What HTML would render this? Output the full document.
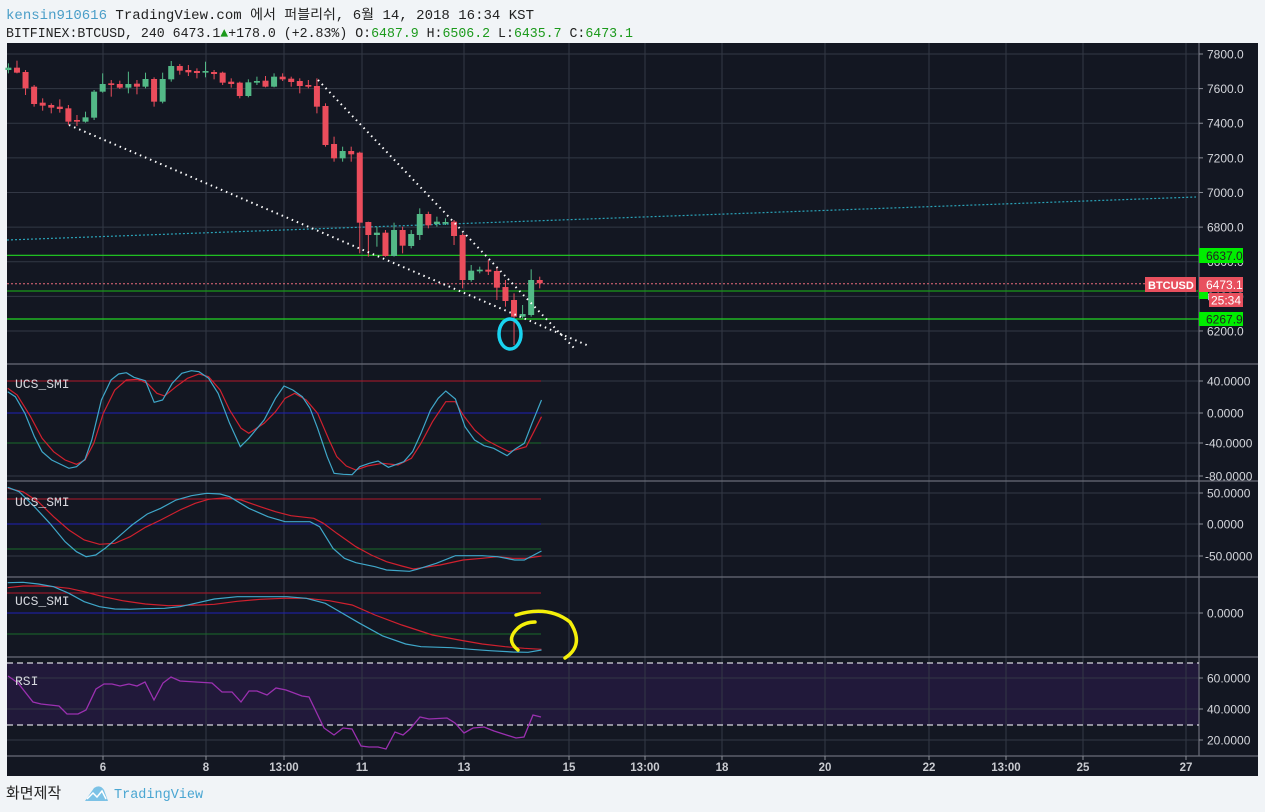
<!DOCTYPE html>
<html><head><meta charset="utf-8"><style>
html,body{margin:0;padding:0;background:#f1f4f7;}
svg{display:block}
</style></head><body>
<svg id="s" width="1265" height="812" xmlns="http://www.w3.org/2000/svg" font-family="Liberation Mono, 'Noto Sans CJK KR', monospace">
<rect x="0" y="0" width="1265" height="812" fill="#f1f4f7"/>
<text x="6" y="19" font-size="13.5" textLength="528" lengthAdjust="spacingAndGlyphs"><tspan fill="#4a9ec8">kensin910616</tspan><tspan fill="#222"> TradingView.com 에서 퍼블리쉬, 6월 14, 2018 16:34 KST</tspan></text>
<text x="6" y="37" font-size="13.5" textLength="627" lengthAdjust="spacingAndGlyphs" fill="#222">BITFINEX:BTCUSD, 240 6473.1<tspan fill="#1c9a1c">▲</tspan>+178.0 (+2.83%) O:<tspan fill="#1c9a1c">6487.9</tspan> H:<tspan fill="#1c9a1c">6506.2</tspan> L:<tspan fill="#1c9a1c">6435.7</tspan> C:<tspan fill="#1c9a1c">6473.1</tspan></text>
<rect x="7" y="43" width="1251" height="733" fill="#131722"/>
<rect x="7" y="663" width="1192" height="62" fill="#21193a"/>
<g id="grid" stroke="#363a45" stroke-width="1"></g>
<g id="main"></g>
<text x="547" y="797" font-size="1" fill="none"> </text>
</svg>
<script>
const S=document.getElementById('s'),NS='http://www.w3.org/2000/svg';
function el(t,a,txt){const e=document.createElementNS(NS,t);for(const k in a)e.setAttribute(k,a[k]);if(txt!==undefined)e.textContent=txt;S.appendChild(e);return e;}
function line(x1,y1,x2,y2,c,w,d){const a={x1,y1,x2,y2,stroke:c,'stroke-width':w||1};if(d)a['stroke-dasharray']=d;return el('line',a);}
// vertical grid
const vx=[103,206,284,362,464,569,645,722,825,929,1006,1083,1186];
vx.forEach(x=>line(x,43,x,756,'#333845'));
// horizontal grids main
for(let k=0;k<9;k++){const y=54+k*34.62;line(7,y,1199,y,'#333845');}
[381,413,443,476,493,524,556,613,678,709,740].forEach(y=>line(7,y,1199,y,'#333845'));
// panel separators
[364,481,577,657,756].forEach(y=>line(7,y,1258,y,'#6a6d78',1.2));
line(1199,43,1199,756,'#6a6d78',1.2);
// candles
const C=[
['g',83,90,70,100],['r',83,98,62,100],['r',96,145,90,165],['r',140,192,135,200],['r',188,197,175,212],['r',195,203,190,220],['r',200,207,178,218],['r',205,245,195,255],['r',240,245,225,258],['g',232,245,215,248],
['g',155,233,150,240],['g',132,155,100,158],['r',130,135,120,170],['r',132,143,122,147],['g',132,143,95,160],['r',131,140,120,163],['g',117,140,98,145],['r',117,185,112,200],['g',117,185,98,190],['g',78,118,63,125],
['r',78,92,72,104],['r',90,97,75,108],['r',93,99,85,115],['g',93,98,65,112],['r',96,102,90,118],['r',98,128,95,135],['r',125,132,115,143],['r',128,168,125,175],['g',127,168,118,172],['g',123,128,110,135],
['r',122,140,108,142],['g',110,140,100,142],['r',110,118,100,123],['r',116,126,110,140],['r',123,138,115,160],['r',135,140,120,145],['r',138,200,115,220],['r',198,315,190,320],['r',312,355,290,365],['g',333,355,320,365],
['r',333,343,320,365],['r',338,548,335,640],['r',546,585,545,650],['g',578,585,560,620],['r',578,648,570,650],['g',570,648,548,650],['r',570,617,560,640],['g',582,618,570,625],['g',522,585,505,600],['r',522,556,515,565],
['g',545,552,530,560],['g',546,551,535,555],['r',545,588,540,615],['r',585,720,580,745],['g',692,720,675,725],['g',689,694,680,700],['r',689,695,660,705],['r',693,743,680,780],['r',741,783,720,800],['r',780,830,760,915],
['g',822,830,795,835],['g',720,825,688,830],['r',720,730,710,745]];
// horizontal level lines first
line(7,255.3,1199,255.3,'#22d622',1.2);
line(7,291,1199,291,'#1a9a1a',1.2);
line(7,319,1199,319,'#22d622',1.2);
line(7,283.7,1145,283.7,'#e86a7a',1,'2,2');
line(7,240,1196,197,'#2aa3b8',1.2,'2,2');
C.forEach((c,i)=>{const x=8.4+8.57*i;const col=c[0]=='g'?'#53b987':'#eb4d5c';
 line(x,c[3]/3+40,x,c[4]/3+40,col,1);
 const t=c[1]/3+40,b=c[2]/3+40;el('rect',{x:x-3,y:t,width:6,height:Math.max(1,b-t),fill:col});});
line(69,125,589,346,'#ffffff',2,'1.5,4');
line(318,80,574,348,'#ffffff',2,'1.5,4');
el('ellipse',{cx:510,cy:334,rx:11,ry:15,fill:'none',stroke:'#19d3f0','stroke-width':3.5});
// indicator lines
function poly(pts,col,oy){const p=[];for(let i=0;i<pts.length;i+=2)p.push((pts[i]/2.613).toFixed(1)+','+(pts[i+1]/3+oy).toFixed(1));el('polyline',{points:p.join(' '),fill:'none',stroke:col,'stroke-width':1.2});}
// level lines panels
[[381,'#b2182b'],[413,'#1f22b5'],[443,'#1a6b2a'],[499,'#b2182b'],[524,'#1f22b5'],[549,'#1a6b2a'],[593,'#b2182b'],[613,'#1f22b5'],[634,'#1a6b2a']].forEach(a=>line(7,a[0],541,a[0],a[1],1));
poly([20,85,45,105,80,170,110,235,140,275,170,300,200,313,222,300,245,250,270,160,300,90,330,60,360,58,385,70,410,100,430,108,460,80,490,55,520,42,545,50,575,90,600,150,630,205,650,220,690,190,720,155,745,115,770,100,800,120,830,160,860,240,880,290,905,318,930,330,960,318,1000,310,1040,315,1075,295,1100,250,1130,185,1165,125,1190,125,1210,165,1240,210,1270,240,1300,258,1330,275,1375,260,1395,215,1415,170],'#d0202e',360);
poly([20,95,40,110,65,160,90,230,110,275,135,300,180,325,200,320,222,298,240,240,265,120,290,60,310,42,330,38,350,52,380,62,403,127,425,120,450,70,475,40,500,32,520,35,545,55,570,100,600,190,628,260,650,235,690,180,720,115,742,78,765,90,790,110,810,145,830,205,855,290,873,340,897,343,920,344,940,320,965,310,988,303,1015,322,1055,305,1078,275,1100,220,1125,150,1145,115,1165,93,1190,117,1215,200,1240,240,1265,257,1290,265,1325,287,1345,268,1370,250,1390,190,1415,120],'#3fa7c9',360);
poly([20,385,60,395,100,425,140,470,180,510,220,540,260,553,300,550,340,530,380,502,420,480,470,450,510,430,545,418,590,413,630,420,680,440,720,455,760,467,820,475,845,490,880,520,930,560,970,585,1010,605,1050,618,1080,627,1110,622,1150,615,1210,600,1260,595,1300,590,1340,595,1375,595,1415,588],'#d0202e',360);
poly([20,382,50,395,90,440,130,490,170,545,200,575,225,590,250,585,275,565,310,530,345,495,385,462,420,445,460,420,500,407,540,400,575,402,600,410,650,445,700,470,745,485,810,485,835,500,870,565,900,595,930,608,980,620,1010,630,1070,634,1090,628,1140,610,1190,587,1260,587,1300,590,1345,600,1370,600,1415,573],'#3fa7c9',360);
poly([20,683,60,678,100,678,140,680,180,685,220,695,270,710,320,722,380,732,440,737,520,735,560,733,620,724,680,718,740,715,800,715,860,722,920,735,980,765,1050,795,1130,825,1200,840,1260,852,1320,860,1370,865,1415,868],'#d0202e',360);
poly([20,668,60,667,100,672,140,680,180,700,220,725,260,740,300,747,340,748,380,746,430,745,470,740,510,730,560,717,620,710,700,710,750,710,800,715,850,730,880,750,940,790,1000,828,1060,852,1100,860,1180,863,1230,868,1280,872,1340,876,1380,877,1415,870],'#3fa7c9',360);
// RSI
line(7,663,1199,663,'#d8d8e0',1.2,'6,4');line(7,725,1199,725,'#d8d8e0',1.2,'6,4');
const R=[8,676,18,683,33,702,41,704,59,706,67,714,78,714,86,710,96,689,104,684,112,684,120,686,129,684,137,686,145,682,154,700,163,683,171,677,180,681,196,682,212,683,222,692,232,692,241,702,249,691,257,691,267,695,276,688,286,690,302,696,309,697,324,728,334,735,343,728,352,729,361,746,369,747,378,747,386,749,395,732,403,735,410,729,420,717,429,719,447,718,455,723,464,733,473,728,484,727,494,731,516,738,524,737,533,715,541,717];
let rp=[];for(let i=0;i<R.length;i+=2)rp.push(R[i]+','+R[i+1]);el('polyline',{points:rp.join(' '),fill:'none',stroke:'#9b30b0','stroke-width':1.3});
// yellow scribble
el('path',{d:'M516,615 Q548,605 570,622 Q585,645 565,658 M518,650 Q505,640 518,628 Q525,622 535,622',fill:'none',stroke:'#f5f00a','stroke-width':3.5,'stroke-linecap':'round'});
// panel labels
[[384,'UCS_SMI'],[502,'UCS_SMI'],[601,'UCS_SMI'],[681,'RSI']].forEach(a=>el('text',{x:15,y:a[0]+4,'font-size':13,fill:'#d6d8de'},a[1]));
// axis labels
const AX=[];for(let k=0;k<9;k++)AX.push([54+k*34.62,(7800-200*k).toFixed(1)]);
[[381,'40.0000'],[413,'0.0000'],[443,'-40.0000'],[476,'-80.0000'],[493,'50.0000'],[524,'0.0000'],[556,'-50.0000'],[613,'0.0000'],[678,'60.0000'],[709,'40.0000'],[740,'20.0000']].forEach(a=>AX.push(a));
AX.forEach(a=>{line(1199,a[0],1203,a[0],'#8a8d96');el('text',{x:a[1][0]=='-'?1205:1207,y:a[0]+4.5,'font-size':12,'font-family':'Liberation Sans, sans-serif',fill:'#d4d6dc'},a[1]);});
// price tags
el('rect',{x:1199,y:248,width:44,height:15,fill:'#00ee00'});el('text',{x:1206,y:260,'font-size':12,'font-family':'Liberation Sans, sans-serif',fill:'#222'},'6637.0');
el('rect',{x:1199,y:312,width:44,height:14,fill:'#00ee00'});el('text',{x:1206,y:323.5,'font-size':12,'font-family':'Liberation Sans, sans-serif',fill:'#222'},'6267.9');
el('rect',{x:1199,y:292,width:9,height:7,fill:'#00ee00'});
el('rect',{x:1199,y:277,width:44,height:15,fill:'#e8505e'});el('text',{x:1206,y:289,'font-size':12,'font-family':'Liberation Sans, sans-serif',fill:'#fff'},'6473.1');
el('rect',{x:1209,y:293,width:34,height:14,fill:'#e8505e'});el('text',{x:1211,y:304.5,'font-size':12,'font-family':'Liberation Sans, sans-serif',fill:'#fff'},'25:34');
el('rect',{x:1145,y:277,width:51,height:15,fill:'#e8505e'});el('text',{x:1148,y:289,'font-size':11,'font-weight':'bold','font-family':'Liberation Sans, sans-serif',fill:'#fff'},'BTCUSD');
// time labels
['6','8','13:00','11','13','15','13:00','18','20','22','13:00','25','27'].forEach((t,i)=>{line(vx[i],756,vx[i],760,'#8a8d96');el('text',{x:vx[i],y:771,'font-size':11.5,'font-weight':'bold','text-anchor':'middle','font-family':'Liberation Sans, sans-serif',fill:'#c8cad0'},t);});
// footer
el('text',{x:6,y:798,'font-size':15,'font-family':"'Noto Sans CJK KR', sans-serif",fill:'#222'},'화면제작');
el('path',{d:'M85,801 L94,788 Q100,784 104,790 L108,801 Z',fill:'#7cc2e6'});
el('path',{d:'M87,799 L93,793 L97,797 L102,791 L106,799',fill:'none',stroke:'#fff','stroke-width':1.5});
el('text',{x:114,y:798,'font-size':13.5,fill:'#4aa6d2'},'TradingView');
</script>
</body></html>
